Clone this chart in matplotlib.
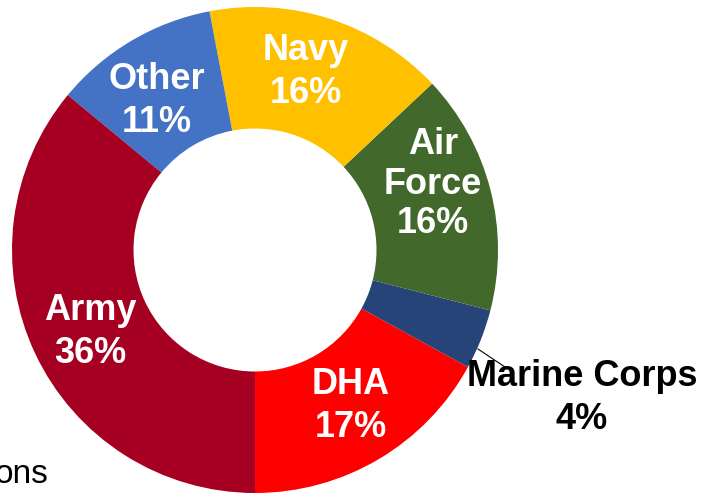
import matplotlib
matplotlib.use("Agg")
import matplotlib.pyplot as plt

# Budget share by component (percent)
components = ["DHA", "Marine Corps", "Air Force", "Navy", "Other", "Army"]
shares = [17, 4, 16, 16, 11, 36]
colors = ["#FF0000", "#264478", "#43682B", "#FFC000", "#4472C4", "#A50021"]
label_text = ["DHA", "Marine Corps", "Air\nForce", "Navy", "Other", "Army"]

W, H = 701, 493
# label centres in image pixels (x, y from top), line spacing
label_pos = {
    "DHA": (351, 406, 1.28),
    "Marine Corps": (582, 398, 1.28),
    "Air Force": (433, 184, 1.15),
    "Navy": (306, 72, 1.28),
    "Other": (157, 101, 1.28),
    "Army": (90, 332, 1.28),
}

plt.rcParams["font.family"] = ["Liberation Sans", "DejaVu Sans"]

fig = plt.figure(figsize=(W / 100, H / 100), dpi=100)
ax = fig.add_axes([0, 0, 1, 1])

cx, cy, R = 255, H - 250, 243
wedges, _ = ax.pie(shares, colors=colors, startangle=270, counterclock=True,
                   center=(cx, cy), radius=R,
                   wedgeprops=dict(width=R * 0.5, linewidth=0))

ax.set_xlim(0, W)
ax.set_ylim(0, H)
ax.set_aspect("equal")
ax.axis("off")

for name, txt, val in zip(components, label_text, shares):
    x, y, ls = label_pos[name]
    col = "black" if name == "Marine Corps" else "white"
    ax.text(x, H - y, f"{txt}\n{val}%", ha="center", va="center",
            fontsize=26, fontweight="bold", color=col, linespacing=ls)

# leader line for the small Marine Corps slice
ax.plot([478, 505], [H - 349, H - 367], color="black", lw=0.8)

# clipped axis caption at the lower-left edge
ax.text(49, H - 483, "ons", ha="right", va="baseline", fontsize=24, color="black")

fig.savefig("out.png", dpi=100)
